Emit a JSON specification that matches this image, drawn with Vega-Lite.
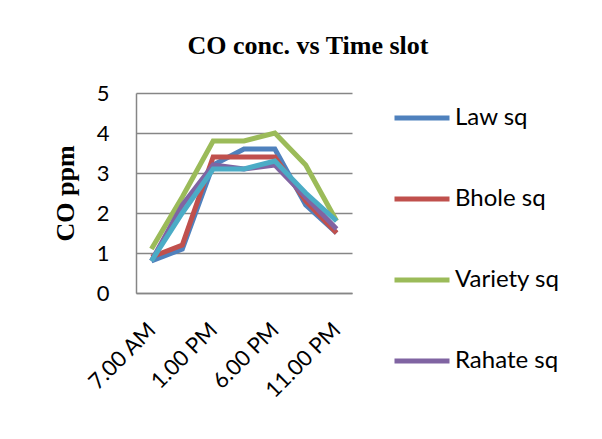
{
  "$schema": "https://vega.github.io/schema/vega-lite/v6.json",
  "width": 216,
  "height": 200,
  "autosize": {"type": "none"},
  "padding": {"left": 136, "top": 93, "right": 250, "bottom": 146},
  "background": "white",
  "title": {
    "text": "CO conc. vs Time slot",
    "font": "Liberation Serif",
    "fontSize": 26,
    "fontWeight": "bold",
    "color": "black",
    "anchor": "middle",
    "dx": 64,
    "offset": 23
  },
  "data": {
    "values": [
      {"time": "7.00 AM", "site": "Law sq", "co": 0.8},
      {"time": "10.00 AM", "site": "Law sq", "co": 1.1},
      {"time": "1.00 PM", "site": "Law sq", "co": 3.2},
      {"time": "3.00 PM", "site": "Law sq", "co": 3.6},
      {"time": "6.00 PM", "site": "Law sq", "co": 3.6},
      {"time": "8.00 PM", "site": "Law sq", "co": 2.2},
      {"time": "11.00 PM", "site": "Law sq", "co": 1.5},
      {"time": "7.00 AM", "site": "Bhole sq", "co": 0.9},
      {"time": "10.00 AM", "site": "Bhole sq", "co": 1.2},
      {"time": "1.00 PM", "site": "Bhole sq", "co": 3.4},
      {"time": "3.00 PM", "site": "Bhole sq", "co": 3.4},
      {"time": "6.00 PM", "site": "Bhole sq", "co": 3.4},
      {"time": "8.00 PM", "site": "Bhole sq", "co": 2.3},
      {"time": "11.00 PM", "site": "Bhole sq", "co": 1.5},
      {"time": "7.00 AM", "site": "Variety sq", "co": 1.1},
      {"time": "10.00 AM", "site": "Variety sq", "co": 2.4},
      {"time": "1.00 PM", "site": "Variety sq", "co": 3.8},
      {"time": "3.00 PM", "site": "Variety sq", "co": 3.8},
      {"time": "6.00 PM", "site": "Variety sq", "co": 4.0},
      {"time": "8.00 PM", "site": "Variety sq", "co": 3.2},
      {"time": "11.00 PM", "site": "Variety sq", "co": 1.8},
      {"time": "7.00 AM", "site": "Rahate sq", "co": 0.8},
      {"time": "10.00 AM", "site": "Rahate sq", "co": 2.2},
      {"time": "1.00 PM", "site": "Rahate sq", "co": 3.2},
      {"time": "3.00 PM", "site": "Rahate sq", "co": 3.1},
      {"time": "6.00 PM", "site": "Rahate sq", "co": 3.2},
      {"time": "8.00 PM", "site": "Rahate sq", "co": 2.4},
      {"time": "11.00 PM", "site": "Rahate sq", "co": 1.6},
      {"time": "7.00 AM", "site": "Sitabuldi sq", "co": 0.8},
      {"time": "10.00 AM", "site": "Sitabuldi sq", "co": 2.0},
      {"time": "1.00 PM", "site": "Sitabuldi sq", "co": 3.1},
      {"time": "3.00 PM", "site": "Sitabuldi sq", "co": 3.1},
      {"time": "6.00 PM", "site": "Sitabuldi sq", "co": 3.3},
      {"time": "8.00 PM", "site": "Sitabuldi sq", "co": 2.5},
      {"time": "11.00 PM", "site": "Sitabuldi sq", "co": 1.8}
    ]
  },
  "mark": {"type": "line", "strokeWidth": 5, "strokeJoin": "miter", "strokeCap": "butt"},
  "encoding": {
    "x": {
      "field": "time",
      "type": "ordinal",
      "sort": ["7.00 AM", "10.00 AM", "1.00 PM", "3.00 PM", "6.00 PM", "8.00 PM", "11.00 PM"],
      "scale": {"type": "point", "padding": 0.5},
      "axis": {
        "title": null,
        "labelAngle": -45,
        "labelAlign": "right",
        "labelBaseline": "middle",
        "labelFont": "Lato",
        "labelFontSize": 22,
        "labelColor": "black",
        "labelPadding": 33,
        "labelExpr": "indexof(['7.00 AM','1.00 PM','6.00 PM','11.00 PM'], datum.value) >= 0 ? datum.value : ''",
        "ticks": false,
        "domainColor": "#868686",
        "domainWidth": 1.5,
        "grid": false
      }
    },
    "y": {
      "field": "co",
      "type": "quantitative",
      "scale": {"domain": [0, 5], "nice": false},
      "axis": {
        "title": "CO ppm",
        "titleFont": "Liberation Serif",
        "titleFontSize": 26,
        "titleFontWeight": "bold",
        "titleColor": "black",
        "titleX": -71,
        "titleY": 100,
        "titleAngle": -90,
        "titleAlign": "center",
        "titleBaseline": "middle",
        "values": [0, 1, 2, 3, 4, 5],
        "labelFont": "Lato",
        "labelFontSize": 22,
        "labelColor": "black",
        "labelPadding": 27,
        "ticks": false,
        "domainColor": "#868686",
        "domainWidth": 1.5,
        "grid": true,
        "gridColor": "#868686",
        "gridWidth": 1.5
      }
    },
    "color": {
      "field": "site",
      "type": "nominal",
      "sort": ["Law sq", "Bhole sq", "Variety sq", "Rahate sq", "Sitabuldi sq"],
      "scale": {
        "domain": ["Law sq", "Bhole sq", "Variety sq", "Rahate sq", "Sitabuldi sq"],
        "range": ["#4F81BD", "#C0504D", "#9BBB59", "#8064A2", "#4BACC6"]
      },
      "legend": {
        "title": null,
        "orient": "none",
        "legendX": 256,
        "legendY": -5,
        "values": ["Law sq", "Bhole sq", "Variety sq", "Rahate sq"],
        "symbolType": "stroke",
        "symbolSize": 3025,
        "symbolStrokeWidth": 5,
        "labelFont": "Lato",
        "labelFontSize": 24,
        "labelColor": "black",
        "labelOffset": 3,
        "rowPadding": 39
      }
    }
  },
  "config": {"view": {"stroke": null}}
}
